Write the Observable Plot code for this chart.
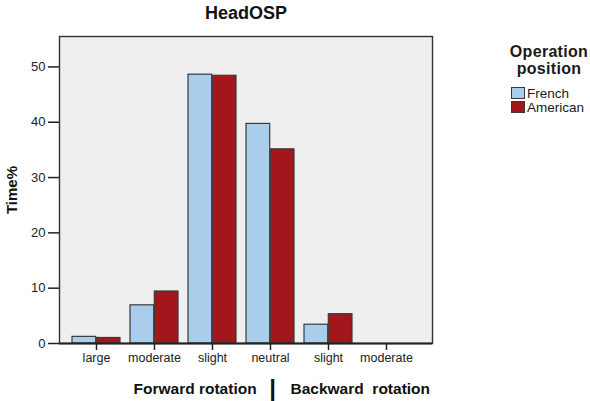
<!DOCTYPE html>
<html><head><meta charset="utf-8">
<script src="https://cdn.jsdelivr.net/npm/d3@7"></script>
<script src="https://cdn.jsdelivr.net/npm/@observablehq/plot@0.6"></script>
<style>
body{margin:0;background:#fff;font-family:"Liberation Sans",Arial,sans-serif;}
#wrap{position:relative;width:590px;height:401px;overflow:hidden;}
#wrap svg{position:absolute;left:0;top:0;}
#legend{position:absolute;left:505px;top:43px;width:88px;color:#1a1a1a;font-family:"Liberation Sans",Arial,sans-serif;}
#legend .lt{font-weight:bold;font-size:16px;line-height:17px;text-align:center;letter-spacing:0.3px;width:88px;}
#legend .item{display:flex;align-items:center;font-size:13.5px;height:14px;margin-left:6px;}
#legend .sw{display:inline-block;border:1px solid #3a3a3a;margin-right:2px;box-sizing:border-box;width:14px;height:12px;}
</style></head><body><div id="wrap"></div>
<script>
const categories = ["large","moderate","slight","neutral","slight","moderate"];
const french = [1.2, 6.9, 48.6, 39.7, 3.4, 0];
const american = [1.0, 9.4, 48.4, 35.1, 5.3, 0];
const seriesNames = ["French","American"];
const seriesColors = ["#aacdec","#a3161c"];
const yTicks = [0,10,20,30,40,50];
const groupLabels = ["Forward rotation","Backward  rotation"];
const title = "HeadOSP";
const yLabel = "Time%";
const legendTitle = ["Operation","position"];

const rows = categories.map((c,i)=>({key:i, label:c, french:french[i], american:american[i]}));

const plot = Plot.plot({
  width:590, height:401,
  marginLeft:59, marginRight:158, marginTop:36, marginBottom:58,
  style:{fontFamily:"'Liberation Sans', Arial, sans-serif", fontSize:"12px", color:"#222", background:"transparent"},
  x:{type:"band", domain: rows.map(d=>d.key), padding:0, insetLeft:6, insetRight:15},
  y:{domain:[0,55.5]},
  marks:[
    Plot.frame({fill:"#efefef", stroke:"none"}),
    Plot.barY(rows,{x:"key", y:"french", fill:seriesColors[0], stroke:"#3a3a3a", strokeWidth:1.2, insetLeft:5, insetRight:29.3}),
    Plot.barY(rows,{x:"key", y:"american", fill:seriesColors[1], stroke:"#3a3a3a", strokeWidth:1.2, insetLeft:29.3, insetRight:5}),
    Plot.frame({stroke:"#333", strokeWidth:1.4}),
    Plot.ruleY([0],{stroke:"#222", strokeWidth:2}),
    Plot.axisY({ticks:yTicks, tickSize:11, tickPadding:3, label:null, strokeWidth:1.5, fontSize:13, stroke:"#222"}),
    Plot.axisX({tickSize:7, tickPadding:3, label:null, tickFormat:k=>categories[k], strokeWidth:1.5, fontSize:12.5, stroke:"#222"}),
    Plot.text([title],{frameAnchor:"top", dy:-23, textAnchor:"middle", lineAnchor:"middle", fontWeight:"bold", fontSize:18, fill:"#111"}),
    Plot.text([yLabel],{frameAnchor:"left", dx:-47, textAnchor:"middle", lineAnchor:"middle", rotate:-90, fontWeight:"bold", fontSize:15, fill:"#111"}),
    Plot.text([groupLabels[0]],{frameAnchor:"bottom-left", dx:74, dy:46, textAnchor:"start", lineAnchor:"middle", fontWeight:"bold", fontSize:15.5, fill:"#111"}),
    Plot.text(["|"],{frameAnchor:"bottom-left", dx:213, dy:46, textAnchor:"middle", lineAnchor:"middle", fontWeight:"bold", fontSize:24, fill:"#111"}),
    Plot.text([groupLabels[1]],{frameAnchor:"bottom-left", dx:231, dy:46, textAnchor:"start", lineAnchor:"middle", fontWeight:"bold", fontSize:15.5, fill:"#111"})
  ]
});
const wrap = document.getElementById("wrap");
wrap.appendChild(plot);

const legend = document.createElement("div");
legend.id = "legend";
const lt = document.createElement("div");
lt.className = "lt";
lt.innerHTML = legendTitle.join("<br>");
legend.appendChild(lt);
const gap = document.createElement("div");
gap.style.height = "9px";
legend.appendChild(gap);
seriesNames.forEach((n,i)=>{
  const it = document.createElement("div");
  it.className = "item";
  const sw = document.createElement("span");
  sw.className = "sw";
  sw.style.background = seriesColors[i];
  it.appendChild(sw);
  it.appendChild(document.createTextNode(n));
  legend.appendChild(it);
});
wrap.appendChild(legend);
</script></body></html>
